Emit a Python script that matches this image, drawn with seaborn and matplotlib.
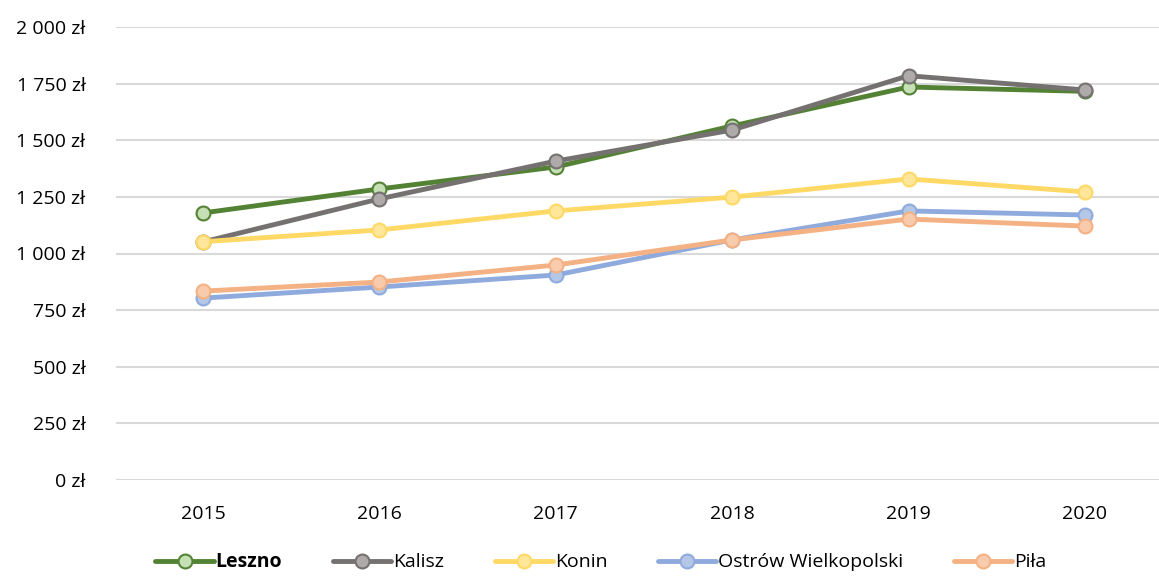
import pandas as pd
import matplotlib.pyplot as plt
import matplotlib.ticker as mticker
import seaborn as sns

years = ['2015', '2016', '2017', '2018', '2019', '2020']
leszno = [1179, 1285, 1382, 1563, 1735, 1716]
kalisz = [1051, 1241, 1408, 1545, 1785, 1722]
konin = [1052, 1104, 1188, 1249, 1329, 1272]
ostrow = [803, 852, 905, 1060, 1188, 1170]
pila = [834, 874, 949, 1060, 1152, 1121]

series = {
    'Leszno': leszno,
    'Kalisz': kalisz,
    'Konin': konin,
    'Ostrów Wielkopolski': ostrow,
    'Piła': pila,
}
# line colour, marker face colour
colors = {
    'Leszno': ('#548235', '#c5e0b4'),
    'Kalisz': ('#767171', '#aeaaaa'),
    'Konin': ('#ffd966', '#ffe699'),
    'Ostrów Wielkopolski': ('#8faadc', '#b4c7e7'),
    'Piła': ('#f4b183', '#f8cbad'),
}

sns.set_style('white')
plt.rcParams['font.family'] = ['Open Sans', 'DejaVu Sans']

fig = plt.figure(figsize=(11.59, 5.76), dpi=100)
ax = fig.add_axes([116 / 1159, 1 - 480 / 576, 1 - 116 / 1159, 453 / 576])

x = list(range(len(years)))
for name, vals in series.items():
    line_c, face_c = colors[name]
    df = pd.DataFrame({'x': x, 'y': vals})
    sns.lineplot(data=df, x='x', y='y', ax=ax, color=line_c, linewidth=3.5,
                 marker='o', markersize=10, markerfacecolor=face_c,
                 markeredgecolor=line_c, markeredgewidth=1.5, label=name)

ax.set_ylim(0, 2000)
ax.set_xlim(-0.493, 5.42)
ax.set_yticks(range(0, 2001, 250))
ax.yaxis.set_major_formatter(mticker.FuncFormatter(
    lambda v, p: f'{int(v):,} zł'.replace(',', ' ')))
ax.set_xticks(x)
ax.set_xticklabels(years)
ax.set_xlabel('')
ax.set_ylabel('')
ax.grid(axis='y', color='#d9d9d9', linewidth=1.5)
ax.set_axisbelow(True)
for s in ax.spines.values():
    s.set_visible(False)
ax.tick_params(axis='y', length=0, pad=22, labelsize=14, labelcolor='black')
ax.tick_params(axis='x', length=0, pad=18, labelsize=14, labelcolor='black')

leg = ax.legend(loc='center', bbox_to_anchor=(0.465, -0.182), ncol=5,
                frameon=False, fontsize=14, handlelength=3,
                columnspacing=2.6, handletextpad=0.1, labelcolor='black')
leg.get_texts()[0].set_fontweight('bold')

fig.savefig('out.png', dpi=100)
